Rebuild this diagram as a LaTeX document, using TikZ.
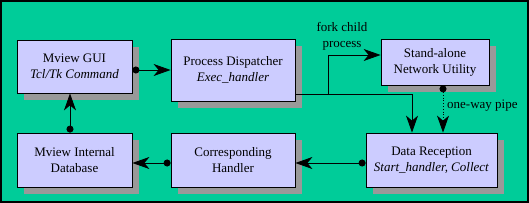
\documentclass[tikz,border=0pt]{standalone}
\usepackage{fontspec}
\setmainfont{Liberation Serif}
\usepackage{xcolor}
\usepackage{tikz}
\usetikzlibrary{arrows.meta,shadows,calc}
\definecolor{MVGreen}  {HTML}{00CC99}
\definecolor{MVLilac}  {HTML}{CCCCFF}
\definecolor{MVShadow} {HTML}{999999}
\tikzset{
  mvbox/.style={draw=black,line width=0.8pt,fill=MVLilac,inner sep=0pt,align=center,
    font=\fontsize{13}{16}\selectfont,
    drop shadow={shadow xshift=7pt,shadow yshift=-7pt,fill=MVShadow,opacity=1}},
  flow/.style={line width=0.8pt,{Circle[length=7pt]}-{Stealth[length=17pt,width=12pt,inset=5pt]}},
  feed/.style={line width=0.8pt,-{Stealth[length=17pt,width=12pt,inset=5pt]}},
  lbl/.style={font=\fontsize{13}{16}\selectfont,align=center,inner sep=0pt}
}

\begin{document}
\begin{tikzpicture}[x=1pt,y=-1pt]
    \useasboundingbox (0,0) rectangle (529,203);
    \fill[MVGreen,draw=black,line width=1.5pt] (1,1) rectangle (528,202);
    % Boxes
    \node[mvbox,minimum width=115pt,minimum height=53pt] (gui)  at (74.5,66.5) {Mview GUI\\\textit{Tcl/Tk Command}};
    \node[mvbox,minimum width=124pt,minimum height=62pt] (disp) at (233,70)    {Process Dispatcher\\\textit{Exec\_handler}};
    \node[mvbox,minimum width=108pt,minimum height=46pt] (util) at (435,62)    {Stand-alone\\Network Utility};
    \node[mvbox,minimum width=131pt,minimum height=54pt] (recv) at (431.5,160) {Data Reception\\\textit{Start\_handler, Collect}};
    \node[mvbox,minimum width=124pt,minimum height=54pt] (hand) at (233,160)   {Corresponding\\Handler};
    \node[mvbox,minimum width=115pt,minimum height=54pt] (db)   at (74.5,160)  {Mview Internal\\Database};
    % Connectors
    \draw[flow] (gui.east |- disp.west) -- (disp.west);
    \draw[feed] ([yshift=-24pt]disp.east) -| ([xshift=-19.5pt]recv.north);
    \coordinate (fork) at ([yshift=-24pt]disp.east -| 328,0);
    \draw[feed] (fork) |- ([yshift=7pt]util.west);
    \draw[flow,dotted] ([xshift=8pt]util.south) -- ([xshift=11.5pt]recv.north);
    \draw[flow] ([yshift=-3pt]recv.west) -- ([yshift=-3pt]hand.east);
    \draw[flow] ([yshift=-3pt]hand.west) -- ([yshift=-3pt]db.east);
    \draw[flow] ([xshift=-4.5pt]db.north) -- ([xshift=-4.5pt]gui.south);
    % Labels
    \node[lbl] (forklbl) at (342,36) {fork child\\process};
    \node[lbl,anchor=west] (pipelbl) at (447,106) {one-way pipe};
\end{tikzpicture}
\end{document}
